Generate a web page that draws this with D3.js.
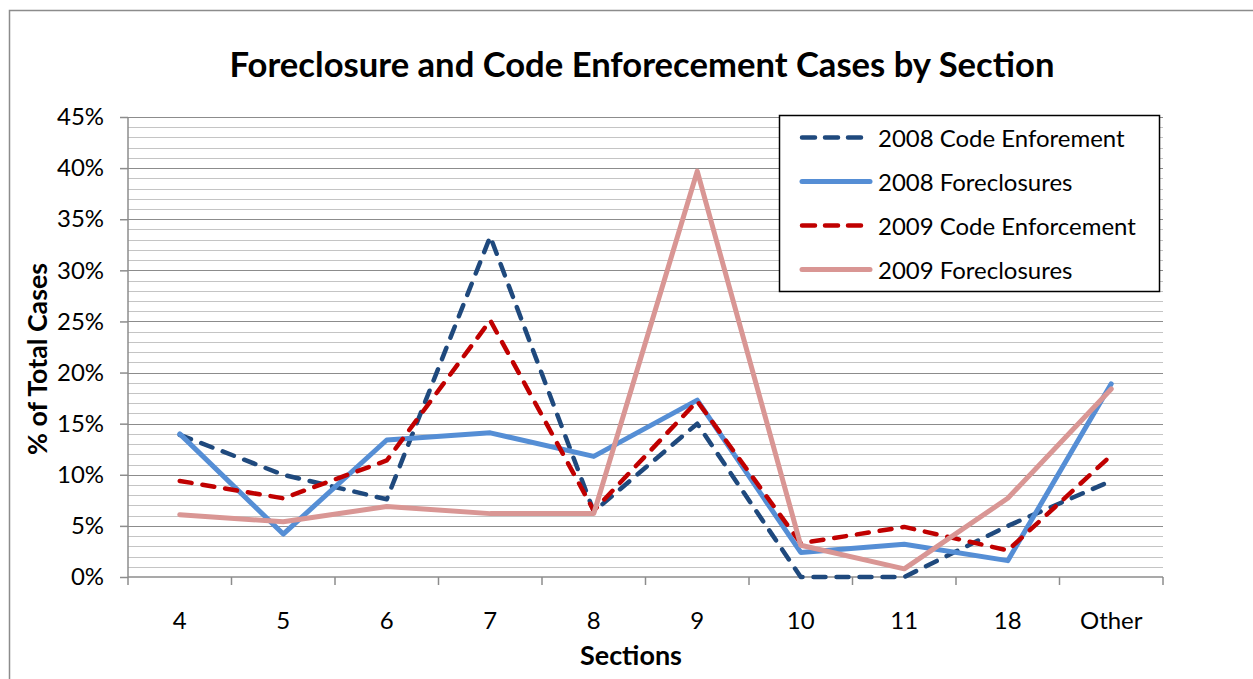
<!DOCTYPE html>
<html><head><meta charset="utf-8">
<script src="https://cdn.jsdelivr.net/npm/d3@7"></script>
<style>html,body{margin:0;padding:0;background:#fff;}svg{display:block;font-family:Lato,"Open Sans",sans-serif;}</style>
</head><body>
<script>
const categories = ["4","5","6","7","8","9","10","11","18","Other"];
const code2008 = [13.9, 10.0, 7.6, 33.3, 6.4, 15.0, 0, 0, 5.0, 9.4];
const fore2008 = [14.0, 4.2, 13.4, 14.1, 11.8, 17.3, 2.4, 3.2, 1.6, 18.9];
const code2009 = [9.4, 7.7, 11.4, 25.1, 6.5, 17.2, 3.3, 4.9, 2.6, 11.9];
const fore2009 = [6.1, 5.4, 6.9, 6.2, 6.2, 39.7, 3.1, 0.8, 7.7, 18.4];
const seriesNames = ["2008 Code Enforement","2008 Foreclosures","2009 Code Enforcement","2009 Foreclosures"];
const yTicks = [0,5,10,15,20,25,30,35,40,45];
const titleText = "Foreclosure and Code Enforecement Cases by Section";
const xTitle = "Sections";
const yTitle = "% of Total Cases";

const W = 1253, H = 679;
const L = 128, R = 1163, T = 117, B = 577;
const svg = d3.select("body").append("svg").attr("width", W).attr("height", H);

svg.append("rect").attr("x",9.5).attr("y",10.5).attr("width",1260).attr("height",700)
  .attr("fill","#fff").attr("stroke","#8c8c8c").attr("stroke-width",1.5);

// measure font scale from the legend's widest label (reference width ≈ 260px)
const probe = svg.append("text").attr("font-size",20).text(seriesNames[2]);
const fs = Math.min(24, 20 * 258 / probe.node().getComputedTextLength());
probe.remove();

const x = d3.scaleBand().domain(categories).range([L, R]);
const y = d3.scaleLinear().domain([0,45]).range([B, T]);

// gridlines
const minor = d3.range(0, 46, 1);
svg.append("g").selectAll("line").data(minor.filter(v => v % 5 !== 0)).join("line")
  .attr("x1", L).attr("x2", R).attr("y1", d => Math.round(y(d))+0.5).attr("y2", d => Math.round(y(d))+0.5)
  .attr("stroke","#c4c4c4").attr("stroke-width",1.2);
svg.append("g").selectAll("line").data(yTicks.filter(v=>v>0)).join("line")
  .attr("x1", L).attr("x2", R).attr("y1", d => Math.round(y(d))+0.5).attr("y2", d => Math.round(y(d))+0.5)
  .attr("stroke","#8c8c8c").attr("stroke-width",1.2);

// y axis
const yAxis = d3.axisLeft(y).tickValues(yTicks).tickFormat(d => d + "%").tickSize(8).tickPadding(16);
const gy = svg.append("g").attr("transform", `translate(${L},0)`).call(yAxis);
gy.selectAll("path,line").attr("stroke","#8c8c8c").attr("stroke-width",1.5);
gy.select(".domain").attr("d", `M0,${B}V${T}`);
gy.selectAll("text").attr("font-size",fs).attr("fill","#000").attr("font-family","Lato, sans-serif");

// x axis
const xAxis = d3.axisBottom(x).tickSize(0).tickPadding(32);
const gx = svg.append("g").attr("transform", `translate(0,${B})`).call(xAxis);
gx.select(".domain").attr("d", `M${L},0H${R}`).attr("stroke","#8c8c8c").attr("stroke-width",1.5);
gx.selectAll("text").attr("font-size",fs).attr("fill","#000").attr("font-family","Lato, sans-serif")
  .attr("dy", null).attr("y", 42).attr("dominant-baseline","central");
const bounds = categories.map(c => x(c)).concat([R]);
gx.append("g").selectAll("line").data(bounds).join("line")
  .attr("x1", d=>d).attr("x2", d=>d).attr("y1",0).attr("y2",8)
  .attr("stroke","#8c8c8c").attr("stroke-width",1.5);

// series
const series = [
  {name: seriesNames[0], values: code2008, color:"#1F497D", dash:"12,11", width:4.5},
  {name: seriesNames[1], values: fore2008, color:"#558ED5", dash:null, width:5},
  {name: seriesNames[2], values: code2009, color:"#C00000", dash:"12,11", width:4.5},
  {name: seriesNames[3], values: fore2009, color:"#D99694", dash:null, width:5}
];
const line = d3.line().x((d,i) => x(categories[i]) + x.bandwidth()/2).y(d => y(d));
series.forEach(s => {
  svg.append("path").datum(s.values).attr("d", line).attr("fill","none")
    .attr("stroke", s.color).attr("stroke-width", s.width)
    .attr("stroke-linecap","round").attr("stroke-linejoin","round")
    .attr("stroke-dasharray", s.dash);
});

// legend
const lg = svg.append("g");
lg.append("rect").attr("x",779.5).attr("y",115.5).attr("width",380).attr("height",176)
  .attr("fill","#fff").attr("stroke","#000").attr("stroke-width",1.5);
series.forEach((s,i) => {
  const cy = 137.5 + i*44;
  lg.append("line").attr("x1",802).attr("x2",870).attr("y1",cy).attr("y2",cy)
    .attr("stroke",s.color).attr("stroke-width",s.width)
    .attr("stroke-linecap","round").attr("stroke-dasharray", s.dash ? "13,10" : null);
  lg.append("text").attr("x",878).attr("y",cy).attr("dominant-baseline","central")
    .attr("font-size",fs).attr("fill","#000").text(s.name);
});

// title
const t = svg.append("text").attr("x",642).attr("y",63).attr("text-anchor","middle")
  .attr("dominant-baseline","central")
  .attr("font-size",30).attr("font-weight","bold").attr("fill","#000").text(titleText);
const tw = t.node().getComputedTextLength();
t.attr("font-size", 30 * 825 / tw);

const xt = svg.append("text").attr("x",631).attr("y",654).attr("text-anchor","middle")
  .attr("dominant-baseline","central")
  .attr("font-size",22).attr("font-weight","bold").text(xTitle);
xt.attr("font-size", Math.min(28, 22 * 102 / xt.node().getComputedTextLength()));
const yt = svg.append("text").attr("transform","translate(37,359) rotate(-90)").attr("text-anchor","middle")
  .attr("dominant-baseline","central")
  .attr("font-size",22).attr("font-weight","bold").text(yTitle);
yt.attr("font-size", Math.min(28, 22 * 192 / yt.node().getComputedTextLength()));
</script>
</body></html>
